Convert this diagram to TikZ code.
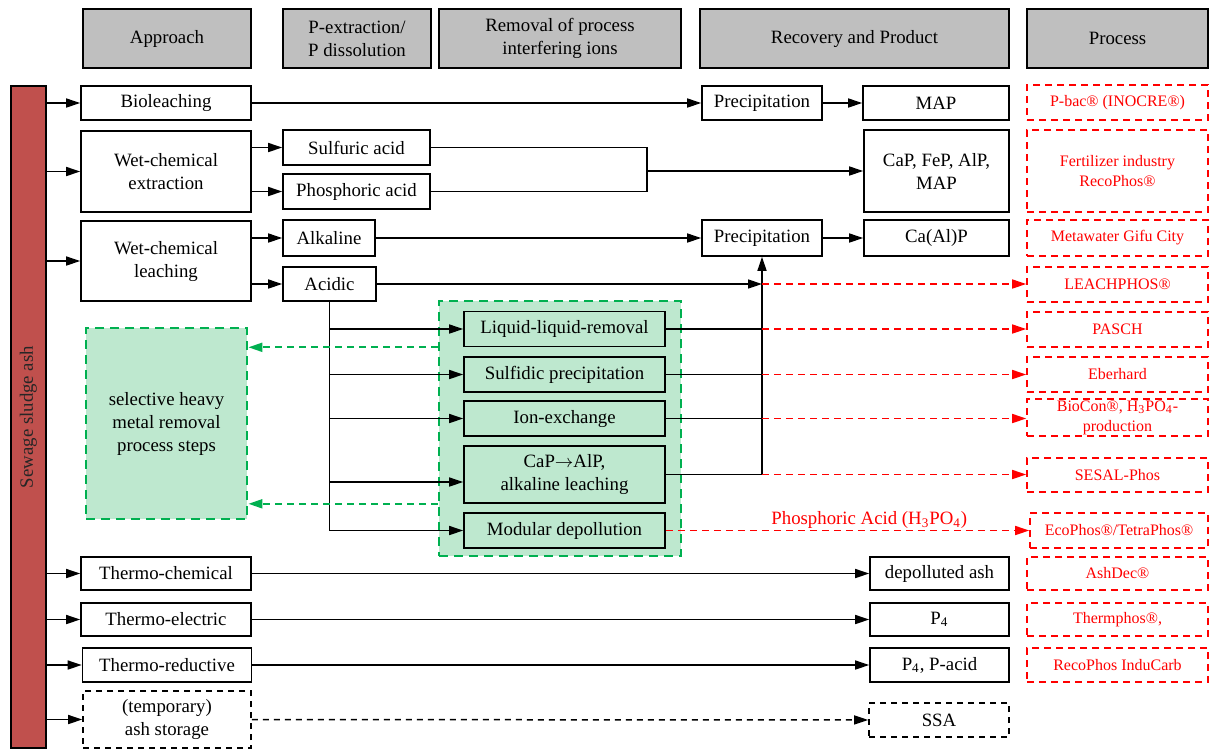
\documentclass[tikz,border=0pt]{standalone}
\usepackage{fontspec}
\setmainfont{Liberation Serif}
\usepackage{tikz}
\usetikzlibrary{arrows.meta, calc}
\definecolor{headgray}{RGB}{191,191,191}
\definecolor{ashred}{RGB}{192,80,77}
\definecolor{mint}{RGB}{190,232,207}
\definecolor{dashgreen}{RGB}{0,176,80}
\definecolor{procred}{RGB}{255,0,0}
\tikzstyle{head} = [rectangle, draw, fill=headgray, line width=1pt, align=center, inner sep=1pt, minimum height=29.5pt, font=\fontsize{9.4}{11.5}\selectfont]
\tikzstyle{block} = [rectangle, draw, line width=0.8pt, align=center, inner sep=1pt, font=\fontsize{9.4}{11.5}\selectfont]
\tikzstyle{greenblock} = [block, fill=mint]
\tikzstyle{dashblock} = [block, dash pattern=on 3pt off 2.5pt]
\tikzstyle{proc} = [rectangle, draw=procred, text=procred, dash pattern=on 3.5pt off 2.5pt, line width=0.8pt, align=center, inner sep=0.5pt, minimum width=90.5pt, font=\fontsize{8}{10}\selectfont]
\tikzstyle{greenbox} = [rectangle, draw=dashgreen, fill=mint, line width=1.4pt, dash pattern=on 4.5pt off 3pt]
\tikzstyle{arrow} = [line width=0.75pt, -{Triangle[length=7pt,width=4.5pt]}]
\tikzstyle{redarrow} = [arrow, procred, dash pattern=on 3.5pt off 2.5pt]
\tikzstyle{greenarrow} = [arrow, dashgreen, line width=1pt, dash pattern=on 3.5pt off 2.5pt]

\begin{document}
\begin{tikzpicture}[x=0.5pt, y=-0.5pt]
    \useasboundingbox (0,0) rectangle (1209,751);

    % column heads
    \node (hApp) [head, minimum width=84pt] at (167,38.5) {Approach};
    \node (hExt) [head, minimum width=74pt] at (357,38.5) {P-extraction/\\P dissolution};
    \node (hIon) [head, minimum width=121pt] at (560,38.5) {Removal of process\\interfering ions};
    \node (hRec) [head, minimum width=154.5pt] at (854.5,38.5) {Recovery and Product};
    \node (hPro) [head, minimum width=90.5pt] at (1117.5,38.5) {Process};

    % sewage sludge ash
    \node (ash) [rectangle, draw, fill=ashred, line width=0.8pt, minimum width=17.5pt, minimum height=331pt] at (28.5,417) {};
    \node (ashTxt) [rotate=90, text=black!85, font=\fontsize{9.4}{11.5}\selectfont] at (ash.center) {Sewage sludge ash};

    % approaches
    \node (bio) [block, minimum width=85pt, minimum height=17pt] at (166,103) {Bioleaching};
    \node (wce) [block, minimum width=85pt, minimum height=40.5pt] at (166,171.5) {Wet-chemical\\extraction};
    \node (wcl) [block, minimum width=85pt, minimum height=40pt] at (166,261) {Wet-chemical\\leaching};
    \node (tchem) [block, minimum width=85pt, minimum height=16.5pt] at (166,573.5) {Thermo-chemical};
    \node (telec) [block, minimum width=85pt, minimum height=16.5pt] at (166,619.5) {Thermo-electric};
    \node (tred) [block, minimum width=84.5pt, minimum height=17pt] at (167,665) {Thermo-reductive};
    \node (store) [dashblock, minimum width=84pt, minimum height=28.5pt] at (167,719.5) {(temporary)\\ash storage};

    % P-extraction
    \node (sulf) [block, minimum width=73.5pt, minimum height=17.5pt] at (356.5,147.5) {Sulfuric acid};
    \node (phos) [block, minimum width=73.5pt, minimum height=17.5pt] at (356.5,191.5) {Phosphoric acid};
    \node (alk) [block, minimum width=46pt, minimum height=18pt] at (329,238) {Alkaline};
    \node (acid) [block, minimum width=46.5pt, minimum height=17pt] at (329.5,284) {Acidic};

    % removal of interfering ions
    \node (grp) [greenbox, minimum width=121pt, minimum height=127.5pt] at (560,428.5) {};
    \node (lle) [greenblock, minimum width=100.5pt, minimum height=17.5pt] at (564.5,329) {Liquid-liquid-removal};
    \node (sul) [greenblock, minimum width=100.5pt, minimum height=17.5pt] at (564.5,374.5) {Sulfidic precipitation};
    \node (ion) [greenblock, minimum width=100.5pt, minimum height=17.5pt] at (564.5,418.5) {Ion-exchange};
    \node (cal) [greenblock, minimum width=100.5pt, minimum height=28.5pt] at (564.5,474.5) {CaP$\rightarrow$AlP,\\alkaline leaching};
    \node (mod) [greenblock, minimum width=100.5pt, minimum height=17.5pt] at (564.5,530.5) {Modular depollution};
    \node (sel) [greenbox, minimum width=80.5pt, minimum height=95.5pt, align=center, font=\fontsize{9.4}{11.5}\selectfont] at (166.5,423.5) {selective heavy\\metal removal\\process steps};

    % recovery and product
    \node (prec1) [block, minimum width=60pt, minimum height=17pt] at (762,103) {Precipitation};
    \node (map) [block, minimum width=73pt, minimum height=17pt] at (936,103) {MAP};
    \node (mix) [block, minimum width=72.5pt, minimum height=41pt] at (936.5,171) {CaP, FeP, AlP,\\MAP};
    \node (prec2) [block, minimum width=60pt, minimum height=18pt] at (762,238) {Precipitation};
    \node (calp) [block, minimum width=72.5pt, minimum height=18pt] at (936.5,238) {Ca(Al)P};
    \node (dep) [block, minimum width=69.5pt, minimum height=16.5pt] at (939.5,573.5) {depolluted ash};
    \node (pfour) [block, minimum width=69.5pt, minimum height=16.5pt] at (939.5,619.5) {P\textsubscript{4}};
    \node (pacid) [block, minimum width=69.5pt, minimum height=17pt] at (939.5,665) {P\textsubscript{4}, P-acid};
    \node (ssa) [dashblock, minimum width=70pt, minimum height=17pt] at (939,720) {SSA};

    % processes
    \node (pbac) [proc, minimum height=17.5pt] at (1117.5,102.5) {P-bac® (INOCRE®)};
    \node (fert) [proc, minimum height=41pt] at (1117.5,171) {Fertilizer industry\\RecoPhos®};
    \node (meta) [proc, minimum height=18pt] at (1117.5,238) {Metawater Gifu City};
    \node (leach) [proc, minimum height=17.5pt] at (1117.5,284.5) {LEACHPHOS®};
    \node (pasch) [proc, minimum height=17.5pt] at (1117.5,329.5) {PASCH};
    \node (eber) [proc, minimum height=17.5pt] at (1117.5,374.5) {Eberhard};
    \node (biocon) [proc, minimum height=18.5pt, inner sep=0pt] at (1117.5,417.5) {BioCon®, H\textsubscript{3}PO\textsubscript{4}-\\production};
    \node (sesal) [proc, minimum height=17pt] at (1117.5,475) {SESAL-Phos};
    \node (eco) [proc, minimum width=89pt, minimum height=17.5pt] at (1119,530.5) {EcoPhos®/TetraPhos®};
    \node (ashdec) [proc, minimum height=16.5pt] at (1117.5,573.5) {AshDec®};
    \node (therm) [proc, minimum height=16.5pt] at (1117.5,619.5) {Thermphos®,};
    \node (reco) [proc, minimum height=17pt] at (1117.5,665) {RecoPhos InduCarb};

    % from the ash
    \foreach \n in {bio,wce,wcl,tchem,telec,tred,store}
        \draw[arrow] (ash.east |- \n.west) -- (\n.west);

    % bioleaching and extraction
    \draw[arrow] (bio) -- (prec1);
    \draw[arrow] (prec1) -- (map);
    \draw[arrow] (wce.east |- sulf.west) -- (sulf.west);
    \draw[arrow] (wce.east |- phos.west) -- (phos.west);
    \coordinate (join) at (647,171);
    \draw[line width=0.75pt] (sulf.east) -| (join) |- (phos.east);
    \draw[arrow] (join) -- (mix.west);

    % leaching
    \draw[arrow] (wcl.east |- alk.west) -- (alk.west);
    \draw[arrow] (wcl.east |- acid.west) -- (acid.west);
    \draw[arrow] (alk) -- (prec2);
    \draw[arrow] (prec2) -- (calp);
    \coordinate (hub) at (prec2.south |- acid.east);
    \draw[arrow] (acid) -- (hub);
    \draw[arrow] (prec2.south |- cal.east) -- (prec2.south);
    \draw[line width=0.75pt] (acid.south) -- (acid.south |- mod.west);
    \foreach \n in {lle,sul,ion,mod}
        \draw[arrow] (acid.south |- \n.west) -- (\n.west);
    \draw[arrow] ($(acid.south |- cal.west)+(0,7.5)$) -- ($(cal.west)+(0,7.5)$);
    \foreach \n in {lle,sul,ion,cal}
        \draw[line width=0.75pt] (\n.east) -- (hub |- \n.east);

    % to the processes
    \draw[redarrow] (hub) -- (leach.west |- hub);
    \draw[redarrow] (hub |- lle.east) -- (pasch.west |- lle.east);
    \draw[redarrow] (hub |- sul.east) -- (eber.west |- sul.east);
    \draw[redarrow] (hub |- ion.east) -- (biocon.west |- ion.east);
    \draw[redarrow] (hub |- cal.east) -- (sesal.west |- cal.east);
    \draw[redarrow] (mod) -- node[pos=0.56, above, inner sep=0.5pt, text=procred, font=\fontsize{9.4}{11.5}\selectfont] {Phosphoric Acid (H\textsubscript{3}PO\textsubscript{4})} (eco.west |- mod.east);

    % heavy metal removal
    \draw[greenarrow] (grp.west |- lle.south) -- (sel.east |- lle.south);
    \draw[greenarrow] (grp.west |- cal.south) -- (sel.east |- cal.south);

    % thermal routes
    \draw[arrow] (tchem) -- (dep);
    \draw[arrow] (telec) -- (pfour);
    \draw[arrow] (tred) -- (pacid);
    \draw[arrow, dash pattern=on 3pt off 2.5pt] (store) -- (ssa);
\end{tikzpicture}
\end{document}
